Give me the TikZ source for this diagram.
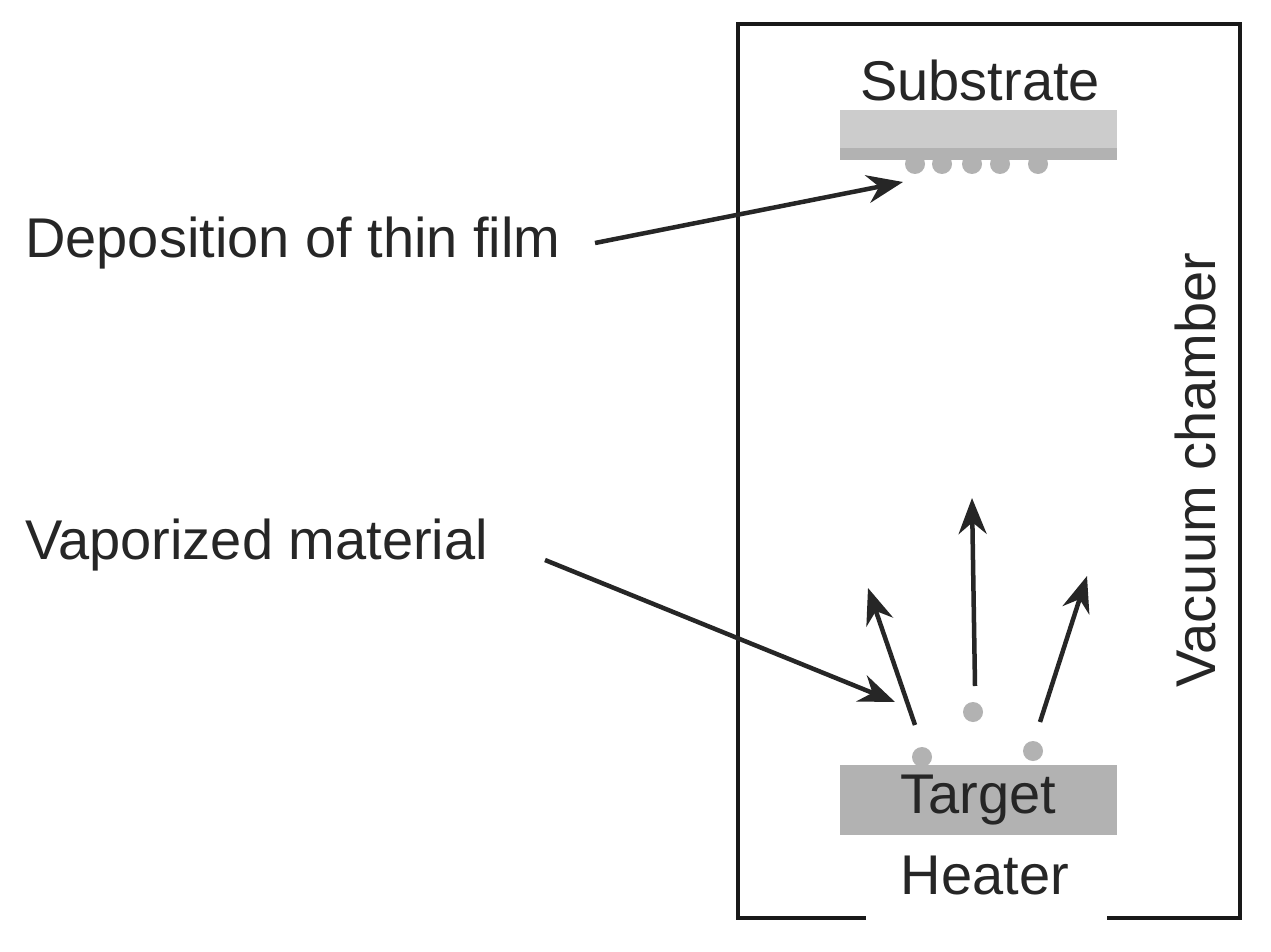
\documentclass[tikz,border=0pt]{standalone}
\usepackage{fontspec}
\setmainfont{Liberation Sans}
\usetikzlibrary{arrows.meta}
\begin{document}
\begin{tikzpicture}[x=1pt,y=-1pt,
  lbl/.style={font=\fontsize{56}{64}\selectfont, text=black!85, inner sep=0pt},
  arr/.style={line width=4.5pt, black!85, -{Stealth[length=36pt,width=28pt]}},
  dot/.style={circle, fill=black!30, minimum size=20pt, inner sep=0pt}]
\useasboundingbox (0,0) rectangle (1271,952);
\fill[white] (0,0) rectangle (1271,952);
% chamber
\draw[line width=4.5pt, black!90] (866,918) -- (738,918) -- (738,24) -- (1240,24) -- (1240,918) -- (1107,918);
% substrate
\fill[black!20] (840,110) rectangle (1117,150);
\fill[black!30] (840,148) rectangle (1117,160);
\foreach \x in {915,942,972,1000,1038} \fill[black!30] (\x,164) circle (10);
% target
\node[fill=black!30, minimum width=277pt, minimum height=70pt, inner sep=0pt] (target) at (978.5,800) {};
\node[lbl] at (978.5,800) {Target};
\node[lbl] (heater) at (985,876) {Heater};
\node[lbl] (sub) at (980,80) {Substrate};
\node[dot] (d1) at (922,757) {};
\node[dot] (d2) at (1033,751) {};
\node[dot] (d3) at (973,712) {};
\coordinate (a1s) at (915,725); \coordinate (a1e) at (868,588);
\coordinate (a2s) at (975,686); \coordinate (a2e) at (972,498);
\coordinate (a3s) at (1040,722); \coordinate (a3e) at (1087,576);
\draw[arr] (a1s) -- (a1e);
\draw[arr] (a2s) -- (a2e);
\draw[arr] (a3s) -- (a3e);
\node[lbl, anchor=west] (dep) at (25,243) {Deposition of thin film};
\node[lbl, anchor=west] (vap) at (25,545) {Vaporized material};
\coordinate (depE) at (903,182);
\coordinate (vapE) at (895,702);
\draw[arr] (595,243) -- (depE);
\draw[arr] (545,560) -- (vapE);
\node[lbl, rotate=90] (vac) at (1195,470) {Vacuum chamber};
\end{tikzpicture}
\end{document}
